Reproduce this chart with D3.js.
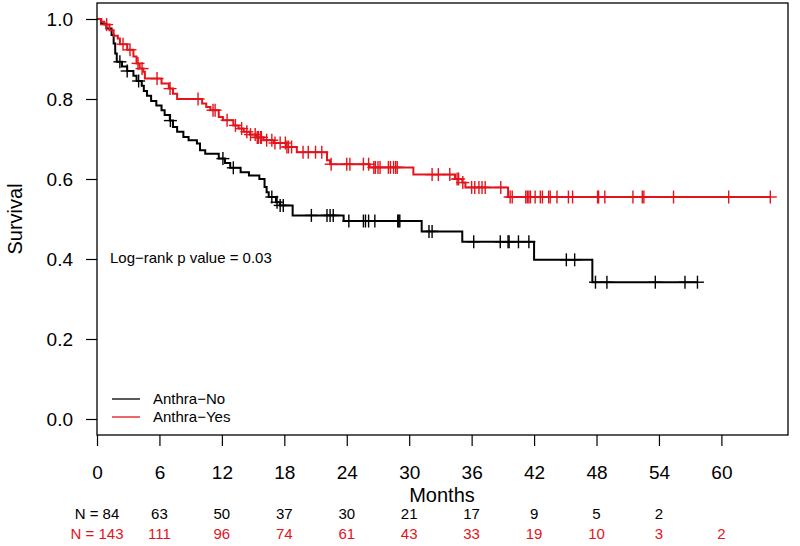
<!DOCTYPE html>
<html>
<head>
<meta charset="utf-8">
<title>Kaplan-Meier: Anthra</title>
<script src="https://d3js.org/d3.v7.min.js"></script>
<style>
  body { margin: 0; background: #fff; }
  svg { font-family: "Liberation Sans", Arial, Helvetica, sans-serif; }
  .axis path.domain { display: none; }
  .axis line { stroke: #000; stroke-width: 1.2px; }
  .axis text { font-size: 19px; fill: #000; }
  .curve { fill: none; stroke-width: 2px; }
</style>
</head>
<body>
<svg width="800" height="546"></svg>
<script>
// tick values
const monthTicks = [0, 6, 12, 18, 24, 30, 36, 42, 48, 54, 60];
const survTicks = [0, 0.2, 0.4, 0.6, 0.8, 1.0];

// numbers at risk under the month ticks
const riskNo = [84, 63, 50, 37, 30, 21, 17, 9, 5, 2];
const riskYes = [143, 111, 96, 74, 61, 43, 33, 19, 10, 3, 2];

// Anthra-No: [month, survival after drop]
const stepsNo = [
  [0.4, 0.988], [0.9, 0.976], [1.4, 0.960], [1.6, 0.939], [1.75, 0.914], [1.9, 0.893],
  [2.4, 0.881], [2.9, 0.870], [3.5, 0.858], [3.8, 0.845], [4.3, 0.833], [4.5, 0.820],
  [4.8, 0.808], [5.2, 0.795], [5.7, 0.784], [6.2, 0.772], [6.5, 0.760], [7.0, 0.746],
  [7.3, 0.730], [7.7, 0.718], [8.3, 0.705], [8.8, 0.697], [9.6, 0.689], [9.9, 0.672],
  [10.4, 0.663], [11.7, 0.651], [12.3, 0.640], [12.8, 0.628], [13.8, 0.617], [14.6, 0.609],
  [15.6, 0.600], [16.1, 0.580], [16.3, 0.567], [16.5, 0.555], [17.2, 0.542], [17.6, 0.534],
  [18.8, 0.509], [23.7, 0.495], [31.2, 0.469], [35.1, 0.443], [42.0, 0.398], [47.6, 0.342]
];
const censorNo = [
  2.2, 2.9, 4.0, 7.05, 12.1, 13.1, 16.8, 17.3, 17.6, 17.9, 20.6, 22.1, 22.4, 22.7,
  24.2, 25.6, 25.8, 26.1, 26.7, 28.9, 29.0, 29.1, 31.9, 32.2, 36.2, 38.75, 39.5, 39.6,
  40.5, 41.5, 45.1, 45.9, 47.9, 49.0, 53.65, 56.5, 57.7
];

// Anthra-Yes
const stepsYes = [
  [0.4, 0.993], [0.7, 0.986], [1.2, 0.972], [1.6, 0.958], [2.0, 0.951], [2.2, 0.937],
  [2.9, 0.923], [3.5, 0.906], [3.8, 0.889], [4.1, 0.876], [4.45, 0.868], [4.6, 0.851],
  [6.2, 0.839], [6.9, 0.826], [7.3, 0.813], [7.7, 0.800], [10.1, 0.789], [10.5, 0.780],
  [10.9, 0.772], [11.7, 0.755], [12.1, 0.747], [13.1, 0.734], [13.6, 0.726], [14.1, 0.718],
  [14.7, 0.711], [15.3, 0.704], [16.0, 0.697], [17.0, 0.690], [18.2, 0.680], [19.2, 0.667],
  [22.1, 0.647], [22.4, 0.637], [26.2, 0.629], [30.4, 0.611], [34.4, 0.600], [35.1, 0.591],
  [35.4, 0.579], [39.5, 0.555]
];
const censorYes = [
  0.93, 2.5, 3.17, 3.94, 4.33, 5.77, 7.02, 9.71, 11.15, 11.35, 12.5, 13.3, 13.9, 14.4,
  14.75, 15.2, 15.4, 15.5, 15.7, 15.8, 16.3, 16.8, 17.1, 17.6, 18.1, 18.25, 18.4, 18.7,
  19.8, 20.3, 21.0, 21.6, 22.5, 24.0, 24.3, 25.6, 26.1, 26.6, 26.75, 27.0, 27.2, 28.0,
  28.2, 28.5, 28.7, 28.85, 32.2, 32.8, 33.9, 34.6, 34.75, 35.15, 36.0, 36.3, 36.7, 37.0,
  37.3, 38.8, 39.7, 39.9, 41.2, 41.35, 41.5, 41.65, 42.1, 42.6, 42.8, 43.4, 43.55, 44.2,
  45.3, 45.7, 48.1, 48.2, 48.8, 51.5, 52.4, 52.55, 55.4, 60.7, 64.7
];

const groups = [
  { name: "Anthra\u2212No", color: "#000000", steps: stepsNo, censor: censorNo, risk: riskNo },
  { name: "Anthra\u2212Yes", color: "#e3141c", steps: stepsYes, censor: censorYes, risk: riskYes }
];

const svg = d3.select("svg");

const x = d3.scaleLinear().domain([0, 66.4]).range([97, 788]);
const y = d3.scaleLinear().domain([-0.04, 1.04]).range([435, 3]);

// axes
svg.append("g")
  .attr("class", "axis")
  .attr("transform", "translate(97,0)")
  .call(d3.axisLeft(y).tickValues(survTicks).tickFormat(d3.format(".1f"))
    .tickSize(11).tickPadding(13));

svg.append("g")
  .attr("class", "axis")
  .attr("transform", "translate(0,435)")
  .call(d3.axisBottom(x).tickValues(monthTicks).tickFormat(d3.format("d"))
    .tickSize(11).tickPadding(20));

svg.append("text")
  .attr("x", 442).attr("y", 495).attr("dy", "0.35em")
  .attr("text-anchor", "middle")
  .style("font-size", "20px")
  .text("Months");

svg.append("text")
  .attr("transform", "translate(15,219) rotate(-90)")
  .attr("dy", "0.35em")
  .attr("text-anchor", "middle")
  .style("font-size", "20px")
  .text("Survival");

// survival at time t (step function lookup)
function survAt(steps, t) {
  let s = 1;
  for (const [st, sv] of steps) {
    if (st <= t) s = sv;
  }
  return s;
}

const line = d3.line()
  .x(d => x(d[0]))
  .y(d => y(d[1]))
  .curve(d3.curveStepAfter);

groups.forEach(g => {
  const tEnd = d3.max(g.censor);
  const pts = [[0, 1]].concat(g.steps, [[tEnd, g.steps[g.steps.length - 1][1]]]);

  svg.append("path")
    .datum(pts)
    .attr("class", "curve")
    .attr("stroke", g.color)
    .attr("d", line);

  const marks = svg.append("g")
    .attr("stroke", g.color)
    .attr("stroke-width", 1.4);

  g.censor.forEach(t => {
    const cx = x(t), cy = y(survAt(g.steps, t));
    marks.append("line")
      .attr("x1", cx).attr("x2", cx)
      .attr("y1", cy - 6.5).attr("y2", cy + 6.5);
    marks.append("line")
      .attr("x1", cx - 6.5).attr("x2", cx + 6.5)
      .attr("y1", cy).attr("y2", cy);
  });
});

// plot box
svg.append("rect")
  .attr("x", 97).attr("y", 3)
  .attr("width", 691).attr("height", 432)
  .attr("fill", "none")
  .attr("stroke", "#000")
  .attr("stroke-width", 1.3);

// p value
svg.append("text")
  .attr("x", 110).attr("y", 258).attr("dy", "0.35em")
  .style("font-size", "15px")
  .text("Log\u2212rank p value = 0.03");

// legend
const legend = svg.selectAll(".legend")
  .data(groups)
  .enter()
  .append("g")
  .attr("class", "legend")
  .attr("transform", (d, i) => `translate(0, ${399 + i * 18})`);

legend.append("line")
  .attr("x1", 112).attr("x2", 140)
  .attr("stroke", d => d.color)
  .attr("stroke-width", 1.3);

legend.append("text")
  .attr("x", 153).attr("dy", "0.35em")
  .style("font-size", "15px")
  .text(d => d.name);

// numbers at risk
groups.forEach((g, gi) => {
  svg.append("g")
    .selectAll("text")
    .data(g.risk)
    .enter()
    .append("text")
    .attr("x", (d, i) => x(monthTicks[i]))
    .attr("y", 514 + gi * 20)
    .attr("dy", "0.35em")
    .attr("text-anchor", "middle")
    .attr("fill", g.color)
    .style("font-size", "15px")
    .text((d, i) => i === 0 ? "N = " + d : d);
});
</script>
</body>
</html>
